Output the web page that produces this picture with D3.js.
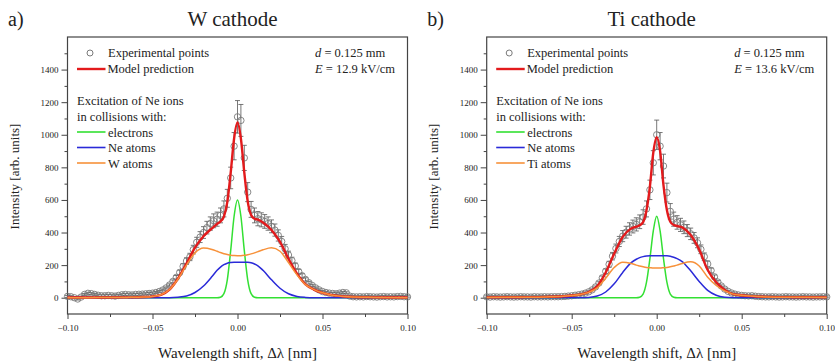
<!DOCTYPE html>
<html>
<head>
<meta charset="utf-8">
<script src="https://cdn.jsdelivr.net/npm/d3@7"></script>
<style>
body { margin: 0; background: #fff; }
text { font-family: "Liberation Serif", "Times New Roman", serif; fill: #222; }
</style>
</head>
<body>
<svg width="835" height="364"></svg>
<script>
// x grid of the model curves (nm)
const curveX = [-0.1, -0.08, -0.065, -0.055, -0.05, -0.045, -0.04, -0.035, -0.03, -0.025, -0.02, -0.015, -0.012, -0.01,
    -0.008, -0.006, -0.004, -0.002, 0, 0.002, 0.004, 0.006, 0.008, 0.01, 0.012, 0.015, 0.02, 0.025, 0.03, 0.035,
    0.04, 0.045, 0.05, 0.055, 0.065, 0.08, 0.1]

// W cathode
const wGreen = [0, 0, 0, 0, 0, 0, 0, 0, 0, 0, 0, 0, 0, 3, 25, 110, 290, 500, 600, 500, 290, 110, 25, 3, 0, 0, 0, 0, 0, 0, 0, 0, 0, 0, 0, 0, 0]
const wBlue = [0, 0, 0, 0, 0, 0, 0, 3, 10, 32, 72, 130, 168, 188, 203, 212, 216, 218, 218, 218, 218, 217, 214, 207, 196, 168, 110, 58, 24, 8, 2, 0, 0, 0, 0, 0, 0]
const wOrange = [0, 1, 2, 4, 8, 18, 50, 115, 200, 275, 305, 296, 285, 277, 270, 265, 261, 259, 258, 258, 260, 264, 269, 275, 283, 294, 306, 285, 215, 140, 80, 50, 30, 17, 6, 2, 0]
const wRed = [1, 1, 2, 4, 8, 18, 50, 118, 210, 307, 377, 426, 453, 468, 498, 587, 767, 977, 1076, 976, 768, 591, 508, 485, 479, 462, 416, 343, 239, 148, 82, 50, 30, 17, 6, 2, 1]

// Ti cathode
const tiGreen = [0, 0, 0, 0, 0, 0, 0, 0, 0, 0, 0, 0, 0, 3, 22, 95, 240, 410, 500, 410, 240, 95, 22, 3, 0, 0, 0, 0, 0, 0, 0, 0, 0, 0, 0, 0, 0]
const tiBlue = [0, 0, 0, 0, 0, 0, 2, 10, 35, 85, 155, 215, 236, 246, 252, 256, 258, 258, 258, 258, 258, 257, 254, 248, 240, 222, 165, 100, 45, 15, 3, 0, 0, 0, 0, 0, 0]
const tiOrange = [2, 3, 5, 9, 14, 20, 33, 60, 120, 185, 218, 210, 200, 195, 190, 186, 184, 182, 182, 182, 184, 186, 190, 195, 200, 210, 220, 195, 125, 75, 42, 22, 15, 10, 5, 3, 2]
const tiRed = [2, 3, 5, 9, 14, 20, 35, 70, 155, 270, 373, 425, 436, 444, 464, 537, 682, 890, 985, 900, 690, 538, 466, 446, 440, 432, 385, 295, 170, 95, 48, 22, 15, 10, 5, 3, 2]

// experimental points, sampled every expStep from expStart
const expStart = -0.1, expStep = 0.002
const wPoints = [8, 6, 0, -8, 4, 20, 27, 25, 20, 15, 12, 12, 14, 12, 10, 14, 18, 20, 18, 17, 20, 21, 22, 24, 26, 28,
    32, 38, 47, 60, 78, 100, 125, 155, 192, 225, 250, 295, 340, 372, 400, 430, 455, 472, 482, 505, 545, 610, 735, 930,
    1110, 1088, 858, 648, 542, 505, 485, 478, 468, 455, 438, 415, 382, 345, 300, 262, 228, 195, 160, 135, 112, 92, 75,
    60, 48, 38, 32, 28, 26, 24, 28, 32, 30, 10, 6, 5, 6, 5, 7, 6, 5, 4, 6, 7, 5, 6, 5, 7, 8, 6, 5]
const tiPoints = [5, 4, 6, 5, 4, 5, 6, 5, 4, 5, 6, 5, 5, 4, 6, 5, 5, 6, 5, 6, 6, 6, 7, 8, 10, 12, 15, 18, 22, 28, 36,
    48, 66, 90, 122, 162, 205, 255, 302, 345, 378, 402, 422, 437, 450, 466, 495, 545, 662, 828, 1000, 930, 808, 645,
    530, 482, 462, 447, 432, 412, 392, 367, 337, 297, 252, 207, 167, 128, 96, 72, 53, 39, 29, 22, 17, 14, 12, 11, 12,
    9, 7, 6, 5, 5, 6, 5, 4, 5, 6, 5, 5, 4, 5, 6, 5, 5, 4, 5, 5, 6, 5]
const relErr = 0.09, minErr = 6

const xTicks = [-0.1, -0.05, 0, 0.05, 0.1]
const xMinor = [-0.075, -0.025, 0.025, 0.075]
const yTicks = [0, 200, 400, 600, 800, 1000, 1200, 1400]
const yMinor = [100, 300, 500, 700, 900, 1100, 1300, 1500]

const colors = { red: "#e31a1c", green: "#33e033", blue: "#2a2ad8", orange: "#f7913a", frame: "#444", points: "#7a7a7a", bars: "#555" }

const panels = [
    { letter: "a)", title: "W cathode", left: 67.5, field: "12.9", atom: "W atoms",
        points: wPoints, green: wGreen, blue: wBlue, orange: wOrange, red: wRed },
    { letter: "b)", title: "Ti cathode", left: 486.7, field: "13.6", atom: "Ti atoms",
        points: tiPoints, green: tiGreen, blue: tiBlue, orange: tiOrange, red: tiRed }
]

const svg = d3.select("svg")
const plotW = 340, plotTop = 37, plotBottom = 314

panels.forEach(p => {
    const x = d3.scaleLinear().domain([-0.1, 0.1]).range([p.left, p.left + plotW])
    const y = d3.scaleLinear().domain([-100, 1600]).range([plotBottom, plotTop])
    const g = svg.append("g")
    const cx = p.left + plotW / 2

    // titles
    g.append("text").attr("x", p.left - 59.5).attr("y", 26).style("font-size", "20px").text(p.letter)
    g.append("text").attr("x", cx - 5).attr("y", 26).attr("text-anchor", "middle").style("font-size", "21px").text(p.title)

    // axes
    g.append("g").attr("transform", `translate(${p.left},0)`)
        .call(d3.axisLeft(y).tickValues(yTicks).tickSize(6).tickSizeOuter(0).tickPadding(3).tickFormat(d3.format("d")))
    g.append("g").attr("transform", `translate(${p.left},0)`)
        .call(d3.axisLeft(y).tickValues(yMinor).tickSize(3).tickSizeOuter(0).tickFormat(""))
    g.append("g").attr("transform", `translate(0,${plotBottom})`)
        .call(d3.axisBottom(x).tickValues(xTicks).tickSize(5).tickSizeOuter(0).tickPadding(6).tickFormat(d3.format(".2f")))
    g.append("g").attr("transform", `translate(0,${plotBottom})`)
        .call(d3.axisBottom(x).tickValues(xMinor).tickSize(3).tickSizeOuter(0).tickFormat(""))
    g.selectAll(".domain").remove()
    g.selectAll(".tick line").attr("stroke", colors.frame)
    g.selectAll(".tick text").style("font-family", "Liberation Serif").style("font-size", "9px").attr("fill", "#222")

    g.append("rect").attr("x", p.left).attr("y", plotTop).attr("width", plotW).attr("height", plotBottom - plotTop)
        .attr("fill", "none").attr("stroke", colors.frame).attr("stroke-width", 1.2)

    g.append("text").attr("transform", `translate(${p.left - 48.5},${(plotTop + plotBottom) / 2 + 1}) rotate(-90)`)
        .attr("text-anchor", "middle").style("font-size", "13px").text("Intensity [arb. units]")
    g.append("text").attr("x", cx).attr("y", 358).attr("text-anchor", "middle").style("font-size", "15px")
        .text("Wavelength shift, Δλ [nm]")

    // experimental points
    const pts = p.points.map((v, i) => ({ x: expStart + i * expStep, v: v }))
    const bg = g.append("g").attr("stroke", colors.bars).attr("stroke-width", 0.8)
    pts.forEach(d => {
        const e = Math.max(Math.abs(d.v) * relErr, minErr)
        const px = x(d.x)
        bg.append("line").attr("x1", px).attr("x2", px).attr("y1", y(d.v - e)).attr("y2", y(d.v + e))
        bg.append("line").attr("x1", px - 2.5).attr("x2", px + 2.5).attr("y1", y(d.v + e)).attr("y2", y(d.v + e))
        bg.append("line").attr("x1", px - 2.5).attr("x2", px + 2.5).attr("y1", y(d.v - e)).attr("y2", y(d.v - e))
    })
    g.append("g").attr("stroke", colors.points).attr("fill", "none").attr("stroke-width", 0.9)
        .selectAll("circle").data(pts).join("circle")
        .attr("cx", d => x(d.x)).attr("cy", d => y(d.v)).attr("r", 3.2)

    // model curves
    const line = d3.line().x((d, i) => x(curveX[i])).y(d => y(d)).curve(d3.curveMonotoneX)
    const curves = [["green", p.green, 1.5], ["blue", p.blue, 1.5], ["red", p.red, 2.4], ["orange", p.orange, 1.5]]
    curves.forEach(c => {
        g.append("path").attr("d", line(c[1])).attr("fill", "none")
            .attr("stroke", colors[c[0]]).attr("stroke-width", c[2]).attr("stroke-linejoin", "round")
    })

    // legend
    const lx = p.left
    g.append("circle").attr("cx", lx + 22.5).attr("cy", 53).attr("r", 3).attr("fill", "none").attr("stroke", colors.points)
    g.append("text").attr("x", lx + 40.5).attr("y", 57).style("font-size", "12.5px").text("Experimental points")
    g.append("line").attr("x1", lx + 9.5).attr("x2", lx + 38).attr("y1", 69).attr("y2", 69)
        .attr("stroke", colors.red).attr("stroke-width", 2.4)
    g.append("text").attr("x", lx + 40).attr("y", 73).style("font-size", "12.5px").text("Model prediction")

    const t1 = g.append("text").attr("x", lx + 247.5).attr("y", 57).style("font-size", "12.5px")
    t1.append("tspan").style("font-style", "italic").text("d")
    t1.append("tspan").text(" = 0.125 mm")
    const t2 = g.append("text").attr("x", lx + 247.5).attr("y", 73).style("font-size", "12.5px")
    t2.append("tspan").style("font-style", "italic").text("E")
    t2.append("tspan").text(` = ${p.field} kV/cm`)

    g.append("text").attr("x", lx + 9.5).attr("y", 105).style("font-size", "12.5px").text("Excitation of Ne ions")
    g.append("text").attr("x", lx + 9.5).attr("y", 121).style("font-size", "12.5px").text("in collisions with:")
    const items = [["green", "electrons"], ["blue", "Ne atoms"], ["orange", p.atom]]
    items.forEach((it, i) => {
        const ly = 132 + i * 15.5
        g.append("line").attr("x1", lx + 9.5).attr("x2", lx + 38).attr("y1", ly).attr("y2", ly)
            .attr("stroke", colors[it[0]]).attr("stroke-width", 1.6)
        g.append("text").attr("x", lx + 40.5).attr("y", ly + 4.5).style("font-size", "12.5px").text(it[1])
    })
})
</script>
</body>
</html>
